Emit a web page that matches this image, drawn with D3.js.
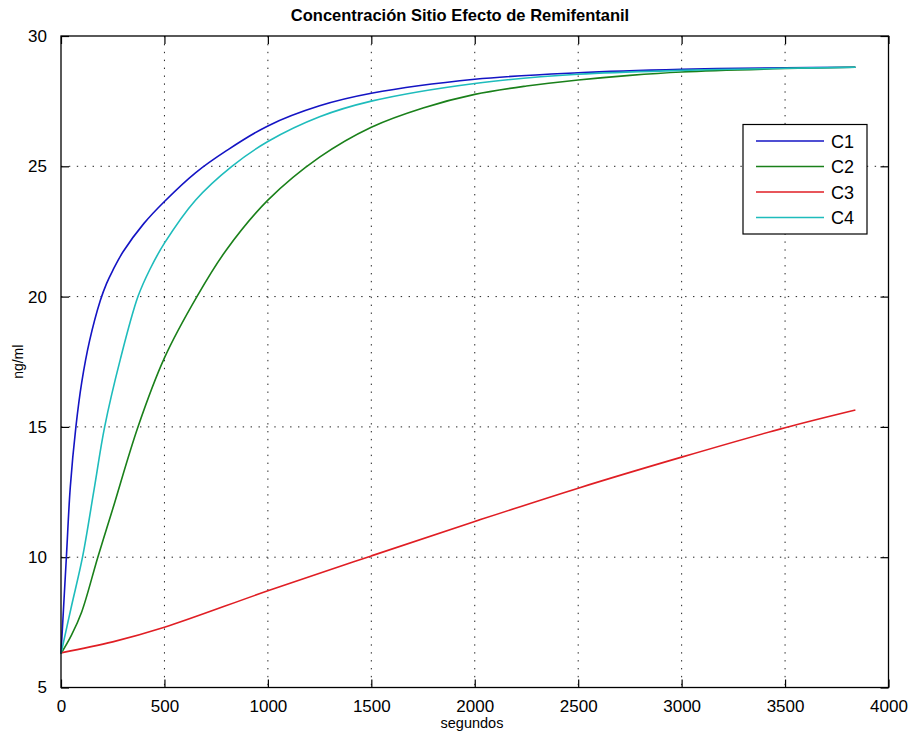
<!DOCTYPE html>
<html lang="es">
<head>
    <meta charset="UTF-8">
    <title>Concentración Sitio Efecto de Remifentanil</title>
    <script src="https://d3js.org/d3.v7.min.js"></script>
    <style>
        body { margin: 0; background: #fff; }
        svg { display: block; font-family: "Liberation Sans", Arial, sans-serif; }
        .grid line { stroke: #222; stroke-width: 1; stroke-dasharray: 1.4,6.5; }
    </style>
</head>
<body>
    <svg width="910" height="735"></svg>

    <script>
        // datos (tiempo en segundos, concentracion ng/ml)
        const c1T = [0, 26, 45, 72, 100, 138, 190, 220, 250, 300, 400, 500, 650, 800, 1000, 1250, 1500, 2000, 2500, 3000, 3500, 3840];
        const c1V = [6.3, 10.0, 12.7, 15.0, 16.7, 18.3, 19.85, 20.5, 21.0, 21.72, 22.8, 23.65, 24.75, 25.6, 26.55, 27.32, 27.8, 28.34, 28.59, 28.72, 28.78, 28.8];

        const c2T = [0, 50, 100, 178, 250, 372, 500, 657, 800, 1000, 1250, 1500, 1750, 2000, 2250, 2500, 2750, 3000, 3500, 3840];
        const c2V = [6.3, 7.0, 7.9, 10.0, 11.85, 15.0, 17.65, 20.0, 21.8, 23.7, 25.35, 26.5, 27.24, 27.76, 28.08, 28.31, 28.49, 28.62, 28.75, 28.8];

        const c3T = [0, 250, 500, 1000, 1500, 2000, 2500, 3000, 3500, 3840];
        const c3V = [6.33, 6.75, 7.31, 8.71, 10.05, 11.37, 12.65, 13.84, 14.97, 15.65];

        const c4T = [0, 50, 104, 160, 211, 287, 372, 430, 500, 650, 826, 1000, 1250, 1500, 2000, 2500, 3000, 3500, 3840];
        const c4V = [6.3, 8.1, 10.0, 12.6, 15.0, 17.6, 20.0, 21.05, 22.05, 23.7, 25.0, 25.95, 26.9, 27.5, 28.18, 28.53, 28.68, 28.76, 28.8];

        const seriesNames = ["C1", "C2", "C3", "C4"];
        const seriesColors = ["#1414c4", "#1a801a", "#e01e24", "#1ebcbc"];
        const xTicks = [0, 500, 1000, 1500, 2000, 2500, 3000, 3500, 4000];
        const yTicks = [5, 10, 15, 20, 25, 30];

        const series = [
            { name: seriesNames[0], t: c1T, v: c1V },
            { name: seriesNames[1], t: c2T, v: c2V },
            { name: seriesNames[2], t: c3T, v: c3V },
            { name: seriesNames[3], t: c4T, v: c4V }
        ];

        const svg = d3.select("svg");
        const pL = 61, pR = 888.5, pT = 36, pB = 687.5;

        const x = d3.scaleLinear().domain([0, 4000]).range([pL, pR]);
        const y = d3.scaleLinear().domain([5, 30]).range([pB, pT]);

        // rejilla punteada
        const grid = svg.append("g").attr("class", "grid");
        grid.selectAll(".gx").data(xTicks.slice(1, -1)).enter().append("line")
            .attr("x1", d => x(d)).attr("x2", d => x(d))
            .attr("y1", pT).attr("y2", pB);
        grid.selectAll(".gy").data(yTicks.slice(1, -1)).enter().append("line")
            .attr("x1", pL).attr("x2", pR)
            .attr("y1", d => y(d)).attr("y2", d => y(d));

        // ejes con marcas hacia dentro
        const tickLen = 8;
        const fmt = d3.format("d");
        svg.append("g").attr("transform", `translate(0,${pB})`)
            .call(d3.axisBottom(x).tickValues(xTicks).tickFormat(fmt).tickSize(-tickLen).tickPadding(12))
            .call(g => g.select(".domain").remove());
        svg.append("g").attr("transform", `translate(0,${pT})`)
            .call(d3.axisTop(x).tickValues(xTicks).tickSize(-tickLen).tickFormat(""))
            .call(g => g.select(".domain").remove());
        svg.append("g").attr("transform", `translate(${pL},0)`)
            .call(d3.axisLeft(y).tickValues(yTicks).tickFormat(fmt).tickSize(-tickLen).tickPadding(14))
            .call(g => g.select(".domain").remove());
        svg.append("g").attr("transform", `translate(${pR},0)`)
            .call(d3.axisRight(y).tickValues(yTicks).tickSize(-tickLen).tickFormat(""))
            .call(g => g.select(".domain").remove());

        svg.selectAll(".tick line").attr("stroke", "#000").attr("stroke-width", 1.2);
        svg.selectAll(".tick text")
            .attr("fill", "#000")
            .style("font-size", "17px")
            .style("font-family", "Liberation Sans, Arial, sans-serif");

        // curvas
        const line = d3.line()
            .x(d => x(d[0]))
            .y(d => y(d[1]))
            .curve(d3.curveCatmullRom.alpha(0.5));

        series.forEach((s, i) => {
            svg.append("path")
                .datum(s.t.map((t, k) => [t, s.v[k]]))
                .attr("fill", "none")
                .attr("stroke", seriesColors[i])
                .attr("stroke-width", 1.6)
                .attr("d", line);
        });

        // marco
        svg.append("rect")
            .attr("x", pL).attr("y", pT)
            .attr("width", pR - pL).attr("height", pB - pT)
            .attr("fill", "none").attr("stroke", "#000").attr("stroke-width", 1.3);

        // leyenda
        const lg = svg.append("g").attr("transform", "translate(743,124.5)");
        lg.append("rect")
            .attr("width", 124).attr("height", 109.5)
            .attr("fill", "#fff").attr("stroke", "#000").attr("stroke-width", 1.2);
        series.forEach((s, i) => {
            const yy = 16.5 + i * 25.5;
            lg.append("line")
                .attr("x1", 13).attr("x2", 81)
                .attr("y1", yy).attr("y2", yy)
                .attr("stroke", seriesColors[i]).attr("stroke-width", 1.6);
            lg.append("text")
                .attr("x", 88).attr("y", yy + 6.5)
                .attr("font-size", "18px")
                .text(s.name);
        });

        // titulos
        svg.append("text")
            .attr("x", 460).attr("y", 21)
            .attr("text-anchor", "middle")
            .attr("font-size", "16.5px").attr("font-weight", "bold")
            .text("Concentración Sitio Efecto de Remifentanil");

        svg.append("text")
            .attr("x", 472).attr("y", 728)
            .attr("text-anchor", "middle")
            .attr("font-size", "14.5px")
            .text("segundos");

        svg.append("text")
            .attr("transform", `translate(23,${(pT + pB) / 2}) rotate(-90)`)
            .attr("text-anchor", "middle")
            .attr("font-size", "14px")
            .text("ng/ml");
    </script>
</body>
</html>
